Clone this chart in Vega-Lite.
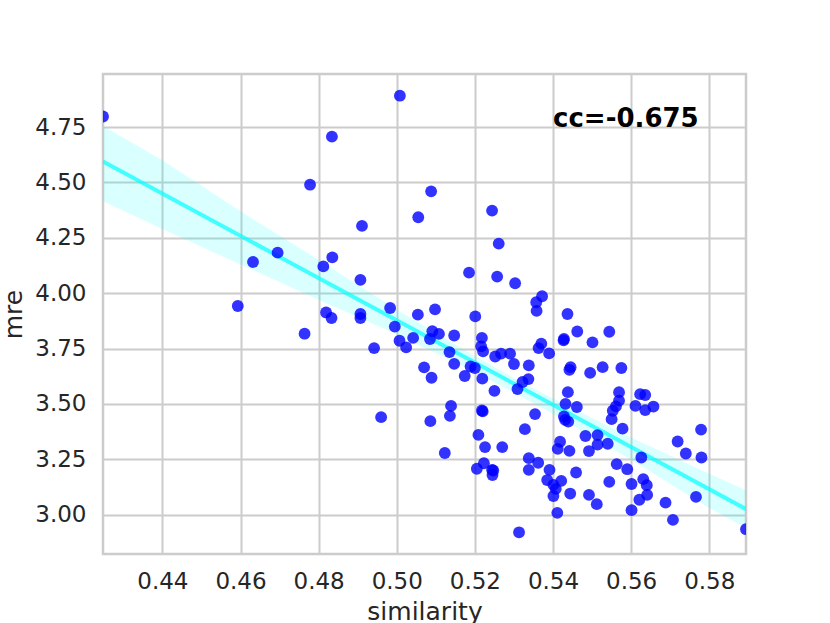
{
  "$schema": "https://vega.github.io/schema/vega-lite/v6.json",
  "width": 643,
  "height": 480,
  "autosize": {"type": "none"},
  "padding": {"left": 103, "top": 74, "right": 84, "bottom": 69},
  "background": "white",
  "datasets": {
    "points": [
      {"similarity": 0.4248, "mre": 4.798}, {"similarity": 0.5008, "mre": 4.892},
      {"similarity": 0.4834, "mre": 4.707}, {"similarity": 0.4778, "mre": 4.490},
      {"similarity": 0.5088, "mre": 4.460}, {"similarity": 0.5055, "mre": 4.343},
      {"similarity": 0.4911, "mre": 4.304}, {"similarity": 0.4695, "mre": 4.183},
      {"similarity": 0.4632, "mre": 4.141}, {"similarity": 0.4835, "mre": 4.162},
      {"similarity": 0.4812, "mre": 4.121}, {"similarity": 0.4907, "mre": 4.060},
      {"similarity": 0.4593, "mre": 3.942}, {"similarity": 0.4819, "mre": 3.913},
      {"similarity": 0.4833, "mre": 3.888}, {"similarity": 0.4907, "mre": 3.906},
      {"similarity": 0.4907, "mre": 3.888}, {"similarity": 0.4983, "mre": 3.933},
      {"similarity": 0.5054, "mre": 3.903}, {"similarity": 0.5098, "mre": 3.927},
      {"similarity": 0.5244, "mre": 4.373}, {"similarity": 0.5261, "mre": 4.224},
      {"similarity": 0.5185, "mre": 4.093}, {"similarity": 0.5257, "mre": 4.075},
      {"similarity": 0.5303, "mre": 4.045}, {"similarity": 0.5372, "mre": 3.986},
      {"similarity": 0.5357, "mre": 3.959}, {"similarity": 0.5358, "mre": 3.920},
      {"similarity": 0.5437, "mre": 3.906}, {"similarity": 0.5201, "mre": 3.895},
      {"similarity": 0.4764, "mre": 3.817}, {"similarity": 0.4995, "mre": 3.849},
      {"similarity": 0.4942, "mre": 3.752}, {"similarity": 0.5007, "mre": 3.785},
      {"similarity": 0.5024, "mre": 3.755}, {"similarity": 0.5042, "mre": 3.798},
      {"similarity": 0.5085, "mre": 3.793}, {"similarity": 0.5091, "mre": 3.828},
      {"similarity": 0.5108, "mre": 3.816}, {"similarity": 0.5147, "mre": 3.809},
      {"similarity": 0.5218, "mre": 3.798}, {"similarity": 0.5216, "mre": 3.760},
      {"similarity": 0.5221, "mre": 3.737}, {"similarity": 0.5135, "mre": 3.734},
      {"similarity": 0.5147, "mre": 3.681}, {"similarity": 0.5070, "mre": 3.665},
      {"similarity": 0.5089, "mre": 3.618}, {"similarity": 0.5174, "mre": 3.626},
      {"similarity": 0.5189, "mre": 3.669}, {"similarity": 0.5200, "mre": 3.662},
      {"similarity": 0.5219, "mre": 3.614}, {"similarity": 0.5252, "mre": 3.714},
      {"similarity": 0.5267, "mre": 3.727}, {"similarity": 0.5290, "mre": 3.727},
      {"similarity": 0.5300, "mre": 3.680}, {"similarity": 0.5338, "mre": 3.674},
      {"similarity": 0.5250, "mre": 3.559}, {"similarity": 0.5309, "mre": 3.567},
      {"similarity": 0.4960, "mre": 3.440}, {"similarity": 0.5086, "mre": 3.422},
      {"similarity": 0.5139, "mre": 3.491}, {"similarity": 0.5136, "mre": 3.446},
      {"similarity": 0.5218, "mre": 3.470}, {"similarity": 0.5220, "mre": 3.466},
      {"similarity": 0.5328, "mre": 3.386}, {"similarity": 0.5209, "mre": 3.360},
      {"similarity": 0.5226, "mre": 3.305}, {"similarity": 0.5270, "mre": 3.305},
      {"similarity": 0.5123, "mre": 3.278}, {"similarity": 0.5338, "mre": 3.255},
      {"similarity": 0.5205, "mre": 3.207}, {"similarity": 0.5223, "mre": 3.232},
      {"similarity": 0.5244, "mre": 3.202}, {"similarity": 0.5247, "mre": 3.199},
      {"similarity": 0.5245, "mre": 3.179}, {"similarity": 0.5338, "mre": 3.202},
      {"similarity": 0.5313, "mre": 2.920}, {"similarity": 0.5462, "mre": 3.827},
      {"similarity": 0.5544, "mre": 3.826}, {"similarity": 0.5428, "mre": 3.793},
      {"similarity": 0.5427, "mre": 3.787}, {"similarity": 0.5501, "mre": 3.778},
      {"similarity": 0.5370, "mre": 3.772}, {"similarity": 0.5363, "mre": 3.752},
      {"similarity": 0.5390, "mre": 3.728}, {"similarity": 0.5337, "mre": 3.612},
      {"similarity": 0.5322, "mre": 3.599}, {"similarity": 0.5445, "mre": 3.666},
      {"similarity": 0.5442, "mre": 3.654}, {"similarity": 0.5495, "mre": 3.640},
      {"similarity": 0.5527, "mre": 3.666}, {"similarity": 0.5575, "mre": 3.662},
      {"similarity": 0.5438, "mre": 3.553}, {"similarity": 0.5569, "mre": 3.553},
      {"similarity": 0.5623, "mre": 3.544}, {"similarity": 0.5636, "mre": 3.540},
      {"similarity": 0.5432, "mre": 3.500}, {"similarity": 0.5461, "mre": 3.486},
      {"similarity": 0.5569, "mre": 3.515}, {"similarity": 0.5561, "mre": 3.489},
      {"similarity": 0.5553, "mre": 3.469}, {"similarity": 0.5550, "mre": 3.431},
      {"similarity": 0.5611, "mre": 3.491}, {"similarity": 0.5636, "mre": 3.472},
      {"similarity": 0.5657, "mre": 3.488}, {"similarity": 0.5354, "mre": 3.454},
      {"similarity": 0.5428, "mre": 3.443}, {"similarity": 0.5431, "mre": 3.428},
      {"similarity": 0.5439, "mre": 3.420}, {"similarity": 0.5578, "mre": 3.388},
      {"similarity": 0.5483, "mre": 3.355}, {"similarity": 0.5514, "mre": 3.359},
      {"similarity": 0.5418, "mre": 3.329}, {"similarity": 0.5412, "mre": 3.297},
      {"similarity": 0.5442, "mre": 3.288}, {"similarity": 0.5514, "mre": 3.316},
      {"similarity": 0.5540, "mre": 3.320}, {"similarity": 0.5492, "mre": 3.287},
      {"similarity": 0.5626, "mre": 3.258}, {"similarity": 0.5719, "mre": 3.330},
      {"similarity": 0.5779, "mre": 3.384}, {"similarity": 0.5740, "mre": 3.276},
      {"similarity": 0.5780, "mre": 3.258}, {"similarity": 0.5362, "mre": 3.234},
      {"similarity": 0.5391, "mre": 3.202}, {"similarity": 0.5385, "mre": 3.156},
      {"similarity": 0.5401, "mre": 3.134}, {"similarity": 0.5421, "mre": 3.152},
      {"similarity": 0.5407, "mre": 3.116}, {"similarity": 0.5401, "mre": 3.084},
      {"similarity": 0.5444, "mre": 3.095}, {"similarity": 0.5459, "mre": 3.190},
      {"similarity": 0.5411, "mre": 3.008}, {"similarity": 0.5492, "mre": 3.089},
      {"similarity": 0.5512, "mre": 3.047}, {"similarity": 0.5544, "mre": 3.148},
      {"similarity": 0.5563, "mre": 3.228}, {"similarity": 0.5590, "mre": 3.205},
      {"similarity": 0.5601, "mre": 3.138}, {"similarity": 0.5631, "mre": 3.160},
      {"similarity": 0.5640, "mre": 3.133}, {"similarity": 0.5641, "mre": 3.089},
      {"similarity": 0.5621, "mre": 3.067}, {"similarity": 0.5601, "mre": 3.020},
      {"similarity": 0.5688, "mre": 3.054}, {"similarity": 0.5707, "mre": 2.976},
      {"similarity": 0.5766, "mre": 3.080}, {"similarity": 0.5894, "mre": 2.934}
    ],
    "band": [
      {"similarity": 0.4248, "lo": 4.415, "hi": 4.755},
      {"similarity": 0.44, "lo": 4.29, "hi": 4.6},
      {"similarity": 0.46, "lo": 4.13, "hi": 4.37},
      {"similarity": 0.48, "lo": 3.97, "hi": 4.15},
      {"similarity": 0.5, "lo": 3.815, "hi": 3.925},
      {"similarity": 0.52, "lo": 3.645, "hi": 3.715},
      {"similarity": 0.53, "lo": 3.551, "hi": 3.617},
      {"similarity": 0.54, "lo": 3.454, "hi": 3.524},
      {"similarity": 0.56, "lo": 3.248, "hi": 3.348},
      {"similarity": 0.58, "lo": 3.03, "hi": 3.185},
      {"similarity": 0.5894, "lo": 2.94, "hi": 3.11}
    ],
    "note": [
      {"similarity": 0.54, "mre": 4.75, "label": "cc=-0.675"}
    ]
  },
  "layer": [
    {
      "data": {"name": "band"},
      "mark": {"type": "area", "color": "#00ffff", "opacity": 0.15, "clip": true},
      "encoding": {
        "x": {"field": "similarity", "type": "quantitative"},
        "y": {"field": "lo", "type": "quantitative"},
        "y2": {"field": "hi"}
      }
    },
    {
      "data": {"name": "points"},
      "transform": [
        {"regression": "mre", "on": "similarity", "extent": [0.4248, 0.5894]}
      ],
      "mark": {"type": "line", "color": "#00ffff", "opacity": 0.7, "strokeWidth": 4, "clip": true},
      "encoding": {
        "x": {"field": "similarity", "type": "quantitative"},
        "y": {"field": "mre", "type": "quantitative"}
      }
    },
    {
      "data": {"name": "points"},
      "mark": {"type": "circle", "color": "#0000ff", "opacity": 0.8, "size": 140, "clip": true},
      "encoding": {
        "x": {
          "field": "similarity",
          "type": "quantitative",
          "title": "similarity",
          "scale": {"domain": [0.4248, 0.5894], "nice": false, "zero": false},
          "axis": {"values": [0.44, 0.46, 0.48, 0.5, 0.52, 0.54, 0.56, 0.58], "format": ".2f", "labelPadding": 16, "titlePadding": 6}
        },
        "y": {
          "field": "mre",
          "type": "quantitative",
          "title": "mre",
          "scale": {"domain": [2.822, 4.99], "nice": false, "zero": false},
          "axis": {"values": [3.0, 3.25, 3.5, 3.75, 4.0, 4.25, 4.5, 4.75], "format": ".2f", "labelPadding": 17, "titlePadding": 8}
        }
      }
    },
    {
      "data": {"name": "note"},
      "mark": {"type": "text", "align": "left", "baseline": "alphabetic", "font": "DejaVu Sans", "fontSize": 26, "fontWeight": "bold", "color": "black"},
      "encoding": {
        "x": {"field": "similarity", "type": "quantitative"},
        "y": {"field": "mre", "type": "quantitative"},
        "text": {"field": "label"}
      }
    }
  ],
  "config": {
    "font": "DejaVu Sans",
    "view": {"stroke": "#cccccc", "strokeWidth": 2.5},
    "axis": {
      "domain": false,
      "ticks": false,
      "grid": true,
      "gridColor": "#cccccc",
      "gridWidth": 2,
      "labelFont": "DejaVu Sans",
      "labelFontSize": 23,
      "labelColor": "#262626",
      "titleFont": "DejaVu Sans",
      "titleFontSize": 25,
      "titleFontWeight": "normal",
      "titleColor": "#262626"
    }
  }
}
